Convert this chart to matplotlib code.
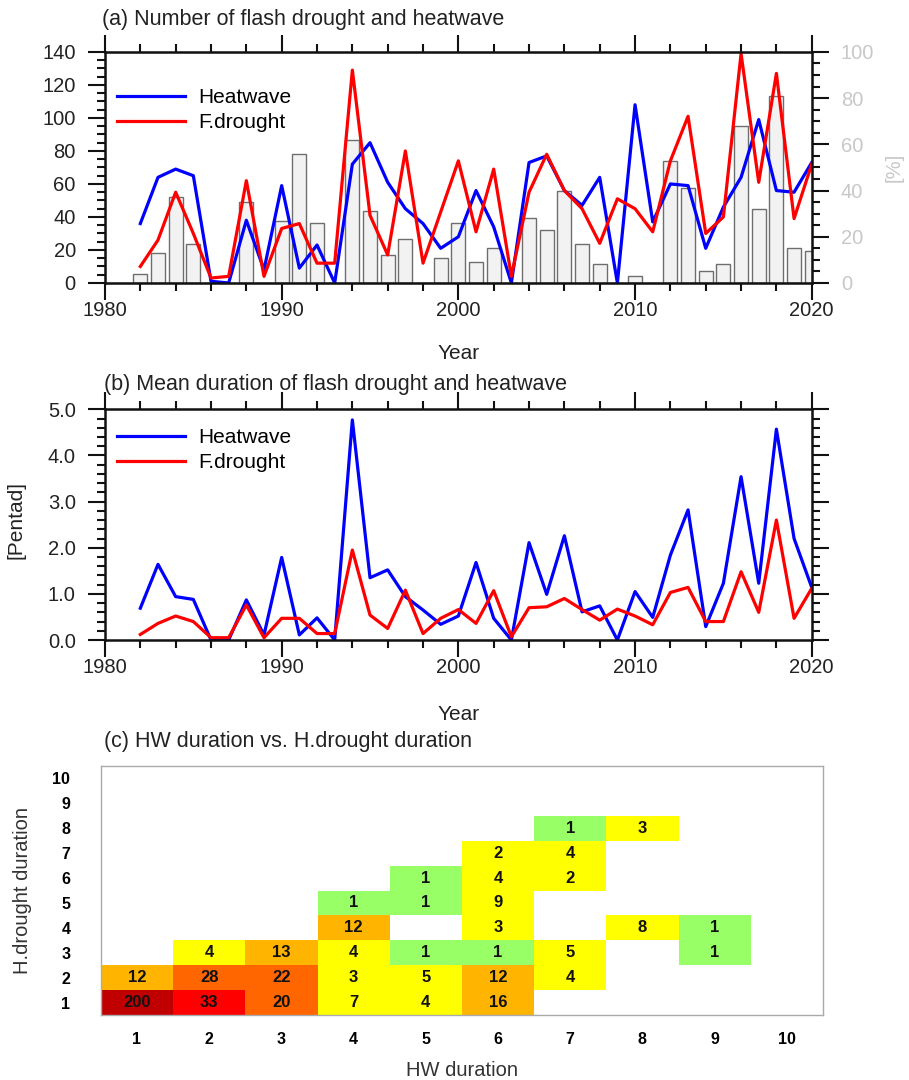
import numpy as np
import matplotlib
matplotlib.use("Agg")
import matplotlib.pyplot as plt
from matplotlib.colors import ListedColormap, BoundaryNorm
from matplotlib.ticker import MultipleLocator

plt.rcParams['font.family'] = ['Liberation Sans', 'DejaVu Sans']

# ---------------- data ----------------
years = list(range(1982, 2021))

# (a) number of events
hw_num = [36, 64, 69, 65, 1, 0, 38, 8, 59, 9, 23, 0, 72, 85, 61, 45, 36, 21, 28,
          56, 34, 0, 73, 77, 56, 47, 64, 0, 108, 37, 60, 59, 21, 46, 64, 99, 56, 55, 73]
fd_num = [10, 26, 55, 30, 3, 4, 62, 4, 33, 36, 12, 12, 129, 41, 17, 80, 12, 43, 74,
          31, 69, 4, 55, 78, 56, 45, 24, 51, 45, 31, 74, 101, 30, 40, 139, 61, 127, 39, 72]
pct = [4, 13, 37, 17, 0, 0, 35, 0, 27, 56, 26, 0, 62, 31, 12, 19, 0, 11, 26,
       9, 15, 0, 28, 23, 40, 17, 8, 0, 3, 0, 53, 41, 5, 8, 68, 32, 81, 15, 14]

# (b) mean duration [pentad]
hw_dur = [0.69, 1.64, 0.94, 0.88, 0.0, 0.0, 0.87, 0.11, 1.79, 0.11, 0.48, 0.0, 4.77,
          1.35, 1.52, 0.94, 0.65, 0.34, 0.52, 1.68, 0.47, 0.0, 2.11, 0.99, 2.26, 0.61,
          0.74, 0.0, 1.05, 0.49, 1.84, 2.82, 0.29, 1.23, 3.54, 1.23, 4.57, 2.2, 1.14]
fd_dur = [0.12, 0.36, 0.52, 0.40, 0.05, 0.05, 0.76, 0.05, 0.47, 0.47, 0.14, 0.14, 1.95,
          0.54, 0.25, 1.08, 0.14, 0.47, 0.66, 0.36, 1.07, 0.07, 0.70, 0.72, 0.90, 0.66,
          0.43, 0.67, 0.52, 0.33, 1.03, 1.14, 0.40, 0.40, 1.48, 0.60, 2.60, 0.47, 1.12]

# (c) joint counts: HW duration (x), H.drought duration (y)
hw_len = [1, 2, 3, 4, 5, 6,
          1, 2, 3, 4, 5, 6, 7,
          2, 3, 4, 5, 6, 7, 9,
          4, 6, 8, 9,
          4, 5, 6,
          5, 6, 7,
          6, 7,
          7, 8]
hd_len = [1, 1, 1, 1, 1, 1,
          2, 2, 2, 2, 2, 2, 2,
          3, 3, 3, 3, 3, 3, 3,
          4, 4, 4, 4,
          5, 5, 5,
          6, 6, 6,
          7, 7,
          8, 8]
counts = [200, 33, 20, 7, 4, 16,
          12, 28, 22, 3, 5, 12, 4,
          4, 13, 4, 1, 1, 5, 1,
          12, 3, 8, 1,
          1, 1, 9,
          1, 4, 2,
          2, 4,
          1, 3]

BLUE = '#0000ff'
RED = '#ff0000'
GRAY_TXT = '#c8c8c8'

fig = plt.figure(figsize=(9.09, 10.8), dpi=100)


def style_axis(ax, ymaj, ymin):
    ax.set_xlim(1980, 2020)
    ax.xaxis.set_major_locator(MultipleLocator(10))
    ax.xaxis.set_minor_locator(MultipleLocator(2))
    ax.yaxis.set_major_locator(MultipleLocator(ymaj))
    ax.yaxis.set_minor_locator(MultipleLocator(ymin))
    ax.tick_params(which='both', direction='out', top=True, width=1.5, colors='#111111')
    ax.tick_params(which='major', length=12, labelsize=14.5, labelcolor='#222222')
    ax.tick_params(which='minor', length=6)
    ax.tick_params(axis='x', pad=1)
    ax.tick_params(axis='y', pad=9)
    for s in ax.spines.values():
        s.set_linewidth(1.8)
        s.set_color('#111111')


# ---------------- (a) ----------------
ax1 = fig.add_axes([0.1155, 0.738, 0.7775, 0.2139])
ax1r = ax1.twinx()
ax1r.bar(years, pct, width=0.8, color='#f2f2f2', edgecolor='#6e6e6e', linewidth=1.0)
ax1r.set_ylim(0, 100)
ax1r.yaxis.set_major_locator(MultipleLocator(20))
ax1r.yaxis.set_minor_locator(MultipleLocator(5))
ax1r.tick_params(which='both', direction='out', width=1.5, colors='#111111')
ax1r.tick_params(which='major', length=12, labelsize=14.5, labelcolor=GRAY_TXT, pad=9)
ax1r.tick_params(which='minor', length=6)
ax1r.set_ylabel('[%]', color=GRAY_TXT, fontsize=14.5)
ax1r.yaxis.set_label_coords(1.103, 0.5)

ax1.set_zorder(ax1r.get_zorder() + 1)
ax1.patch.set_visible(False)
ax1.plot(years, hw_num, color=BLUE, lw=2.3, label='Heatwave')
ax1.plot(years, fd_num, color=RED, lw=2.3, label='F.drought')
ax1.set_ylim(0, 140)
style_axis(ax1, 20, 5)
ax1.set_xlabel('Year', fontsize=15, color='#222222')
ax1.xaxis.set_label_coords(0.5, -0.265)
ax1.legend(loc='upper left', bbox_to_anchor=(-0.01, 0.925), frameon=False, fontsize=15,
           handlelength=3.3, handletextpad=0.6, labelspacing=0.3)
fig.text(102 / 909, 1 - 25 / 1080, '(a) Number of flash drought and heatwave',
         fontsize=15.5, color='#222222', va='baseline', ha='left')

# ---------------- (b) ----------------
ax2 = fig.add_axes([0.1155, 0.4074, 0.7775, 0.2136])
ax2.plot(years, hw_dur, color=BLUE, lw=2.3, label='Heatwave')
ax2.plot(years, fd_dur, color=RED, lw=2.3, label='F.drought')
ax2.set_ylim(0, 5)
style_axis(ax2, 1.0, 0.2)
ax2.tick_params(which='both', right=True)
ax2.yaxis.set_major_formatter(matplotlib.ticker.FormatStrFormatter('%.1f'))
ax2.set_xlabel('Year', fontsize=15, color='#222222')
ax2.xaxis.set_label_coords(0.5, -0.28)
ax2.set_ylabel('[Pentad]', fontsize=15, color='#222222')
ax2.yaxis.set_label_coords(-0.112, 0.52)
ax2.legend(loc='upper left', bbox_to_anchor=(-0.01, 1.0), frameon=False, fontsize=15,
           handlelength=3.3, handletextpad=0.6, labelspacing=0.3)
fig.text(104 / 909, 1 - 390 / 1080, '(b) Mean duration of flash drought and heatwave',
         fontsize=15.5, color='#222222', va='baseline', ha='left')

# ---------------- (c) ----------------
ax3 = fig.add_axes([0.111, 0.0602, 0.7943, 0.2305])
grid = np.full((10, 10), np.nan)
for x, y, c in zip(hw_len, hd_len, counts):
    grid[y - 1, x - 1] = c
cmap = ListedColormap(['#99ff66', '#ffff00', '#ffb400', '#ff6600', '#ff0000', '#c00000'])
norm = BoundaryNorm([1, 2, 10, 20, 30, 100, 1000], cmap.N)
edges = np.arange(0.5, 11.5, 1)
ax3.pcolormesh(edges, edges, np.ma.masked_invalid(grid), cmap=cmap, norm=norm)
for x, y, c in zip(hw_len, hd_len, counts):
    ax3.text(x, y, str(c), ha='center', va='center', fontsize=12, fontweight='bold',
             color='#111111')
ax3.set_xlim(0.5, 10.5)
ax3.set_ylim(0.5, 10.5)
ax3.set_xticks(range(1, 11))
ax3.set_yticks(range(1, 11))
ax3.tick_params(length=0, labelsize=11.5, pad=12)
ax3.tick_params(axis='y', pad=22)
for lab in ax3.get_xticklabels() + ax3.get_yticklabels():
    lab.set_fontweight('bold')
for s in ax3.spines.values():
    s.set_color('#aaaaaa')
    s.set_linewidth(1.0)
ax3.set_xlabel('HW duration', fontsize=14.5, color='#333333')
ax3.xaxis.set_label_coords(0.5, -0.185)
ax3.set_ylabel('H.drought duration', fontsize=14.5, color='#333333')
ax3.yaxis.set_label_coords(-0.095, 0.5)
fig.text(104 / 909, 1 - 747 / 1080, '(c) HW duration vs. H.drought duration',
         fontsize=15.5, color='#222222', va='baseline', ha='left')

fig.savefig('out.png', dpi=100)
